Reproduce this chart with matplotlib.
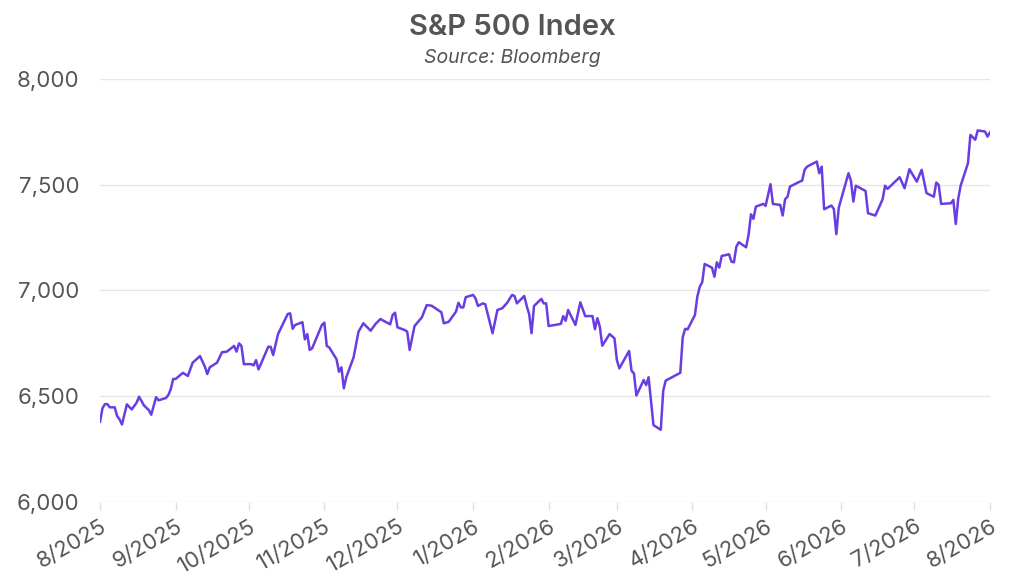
import matplotlib
matplotlib.use("Agg")
import matplotlib.pyplot as plt
import matplotlib.dates as mdates
import matplotlib.ticker as mticker
import pandas as pd

plt.rcParams['font.family'] = ['Inter', 'DejaVu Sans']

# S&P 500 closes
dates = [
    "2025-08-01", "2025-08-02", "2025-08-03", "2025-08-04", "2025-08-05", "2025-08-07",
    "2025-08-08", "2025-08-09", "2025-08-10", "2025-08-12", "2025-08-14", "2025-08-16",
    "2025-08-17", "2025-08-19", "2025-08-21", "2025-08-22", "2025-08-24", "2025-08-25",
    "2025-08-28", "2025-08-29", "2025-08-30", "2025-08-31",
    "2025-09-01", "2025-09-04", "2025-09-06", "2025-09-08", "2025-09-11", "2025-09-13",
    "2025-09-14", "2025-09-15", "2025-09-18", "2025-09-20", "2025-09-22", "2025-09-25",
    "2025-09-26", "2025-09-27", "2025-09-28", "2025-09-29",
    "2025-10-02", "2025-10-03", "2025-10-04", "2025-10-05", "2025-10-09", "2025-10-10",
    "2025-10-11", "2025-10-13", "2025-10-17", "2025-10-18", "2025-10-19", "2025-10-20",
    "2025-10-23", "2025-10-24", "2025-10-25", "2025-10-26", "2025-10-27", "2025-10-31",
    "2025-11-01", "2025-11-02", "2025-11-03", "2025-11-06", "2025-11-07", "2025-11-08",
    "2025-11-09", "2025-11-10", "2025-11-13", "2025-11-15", "2025-11-17", "2025-11-20",
    "2025-11-22", "2025-11-24", "2025-11-28", "2025-11-29", "2025-11-30",
    "2025-12-01", "2025-12-04", "2025-12-05", "2025-12-06", "2025-12-08", "2025-12-11",
    "2025-12-13", "2025-12-15", "2025-12-19", "2025-12-20", "2025-12-22", "2025-12-25",
    "2025-12-26", "2025-12-27", "2025-12-28", "2025-12-29",
    "2026-01-01", "2026-01-02", "2026-01-03", "2026-01-05", "2026-01-06", "2026-01-09",
    "2026-01-11", "2026-01-13", "2026-01-15", "2026-01-17", "2026-01-18", "2026-01-19",
    "2026-01-22", "2026-01-23", "2026-01-24", "2026-01-25", "2026-01-26", "2026-01-29",
    "2026-01-30", "2026-01-31",
    "2026-02-01", "2026-02-06", "2026-02-07", "2026-02-08", "2026-02-09", "2026-02-12",
    "2026-02-14", "2026-02-16", "2026-02-19", "2026-02-20", "2026-02-21", "2026-02-22",
    "2026-02-23", "2026-02-26", "2026-02-28",
    "2026-03-01", "2026-03-02", "2026-03-06", "2026-03-07", "2026-03-08", "2026-03-09",
    "2026-03-12", "2026-03-13", "2026-03-14", "2026-03-16", "2026-03-19", "2026-03-20",
    "2026-03-21", "2026-03-27", "2026-03-28", "2026-03-29", "2026-03-30",
    "2026-04-02", "2026-04-03", "2026-04-04", "2026-04-05", "2026-04-06", "2026-04-09",
    "2026-04-10", "2026-04-11", "2026-04-12", "2026-04-13", "2026-04-16", "2026-04-17",
    "2026-04-18", "2026-04-19", "2026-04-20", "2026-04-23", "2026-04-24", "2026-04-25",
    "2026-04-26", "2026-04-27", "2026-04-30",
    "2026-05-01", "2026-05-03", "2026-05-04", "2026-05-07", "2026-05-08", "2026-05-09",
    "2026-05-10", "2026-05-11", "2026-05-15", "2026-05-16", "2026-05-17", "2026-05-18",
    "2026-05-22", "2026-05-23", "2026-05-24", "2026-05-25", "2026-05-28", "2026-05-29",
    "2026-05-30", "2026-05-31",
    "2026-06-04", "2026-06-05", "2026-06-06", "2026-06-07", "2026-06-11", "2026-06-12",
    "2026-06-15", "2026-06-18", "2026-06-19", "2026-06-20", "2026-06-25", "2026-06-27",
    "2026-06-29",
    "2026-07-02", "2026-07-04", "2026-07-06", "2026-07-09", "2026-07-10", "2026-07-11",
    "2026-07-12", "2026-07-16", "2026-07-17", "2026-07-18", "2026-07-19", "2026-07-20",
    "2026-07-23", "2026-07-24", "2026-07-26", "2026-07-27", "2026-07-30", "2026-07-31",
    "2026-08-01",
]
values = [
    6380, 6444, 6463, 6463, 6448, 6448,
    6407, 6391, 6367, 6462, 6438, 6470,
    6498, 6457, 6435, 6413, 6496, 6481,
    6492, 6506, 6533, 6582,
    6582, 6611, 6596, 6659, 6690, 6640,
    6605, 6637, 6659, 6708, 6711, 6738,
    6711, 6750, 6738, 6652,
    6652, 6646, 6671, 6627, 6734, 6734,
    6695, 6794, 6889, 6892, 6819, 6837,
    6850, 6769, 6794, 6719, 6727, 6837,
    6848, 6738, 6731, 6675, 6616, 6637,
    6538, 6590, 6684, 6805, 6845, 6810,
    6842, 6865, 6840, 6884, 6895,
    6826, 6813, 6805, 6719, 6832, 6873,
    6931, 6928, 6897, 6845, 6852, 6900,
    6942, 6920, 6920, 6968,
    6979, 6963, 6927, 6939, 6935, 6798,
    6908, 6916, 6942, 6979, 6974, 6939,
    6974, 6927, 6889, 6798, 6927, 6960,
    6939, 6939,
    6832, 6842, 6879, 6857, 6908, 6837,
    6944, 6879, 6879, 6817, 6869, 6829,
    6739, 6794, 6774,
    6671, 6632, 6714, 6621, 6608, 6504,
    6577, 6553, 6590, 6364, 6342, 6526,
    6574, 6611, 6779, 6819, 6816,
    6884, 6971, 7018, 7039, 7125, 7108,
    7065, 7133, 7108, 7163, 7171, 7136,
    7133, 7207, 7228, 7204, 7262, 7360,
    7338, 7396, 7409,
    7400, 7502, 7409, 7404, 7354, 7431,
    7443, 7491, 7514, 7519, 7570, 7585,
    7609, 7554, 7585, 7384, 7401, 7385,
    7266, 7391,
    7554, 7518, 7420, 7495, 7470, 7365,
    7354, 7431, 7495, 7480, 7535, 7483,
    7573,
    7514, 7570, 7460, 7443, 7510, 7499,
    7409, 7412, 7428, 7314, 7433, 7495,
    7601, 7735, 7712, 7756, 7751, 7727,
    7746,
]

title = "S&P 500 Index"
subtitle = "Source: Bloomberg"
text_color = "#555555"
line_color = "#6a3de3"

df = pd.DataFrame({"date": pd.to_datetime(dates), "close": values})

fig = plt.figure(figsize=(10.24, 5.88), dpi=100)
ax = fig.add_axes([0.0977, 0.146, 0.869, 0.72])

ax.plot(df["date"], df["close"], color=line_color, linewidth=1.8)

ax.set_xlim(pd.Timestamp("2025-08-01"), pd.Timestamp("2026-08-01"))
ax.set_ylim(6000, 8000)
ax.yaxis.set_major_locator(mticker.MultipleLocator(500))
ax.yaxis.set_major_formatter(mticker.FuncFormatter(lambda v, p: f"{v:,.0f}"))
ax.xaxis.set_major_locator(mdates.MonthLocator())
ax.xaxis.set_major_formatter(
    mticker.FuncFormatter(lambda v, p: f"{mdates.num2date(v).month}/{mdates.num2date(v).year}"))

ax.grid(axis="y", color="#e6e6e6", linewidth=1)
ax.set_axisbelow(True)
for side in ["top", "right", "left", "bottom"]:
    ax.spines[side].set_visible(False)

ax.tick_params(axis="y", length=0, pad=15, labelsize=16, labelcolor=text_color)
ax.tick_params(axis="x", length=6, width=1, color="#e0e0e0", pad=4,
               labelsize=16, labelcolor=text_color)
for lbl in ax.get_xticklabels():
    lbl.set_rotation(30)
    lbl.set_ha("right")
    lbl.set_rotation_mode("anchor")

fig.text(0.5, 0.94, title, ha="center", va="baseline", fontsize=21,
         fontweight="semibold", color=text_color)
fig.text(0.5, 0.893, subtitle, ha="center", va="baseline", fontsize=14,
         style="italic", color=text_color)

fig.savefig("out.png", dpi=100)
